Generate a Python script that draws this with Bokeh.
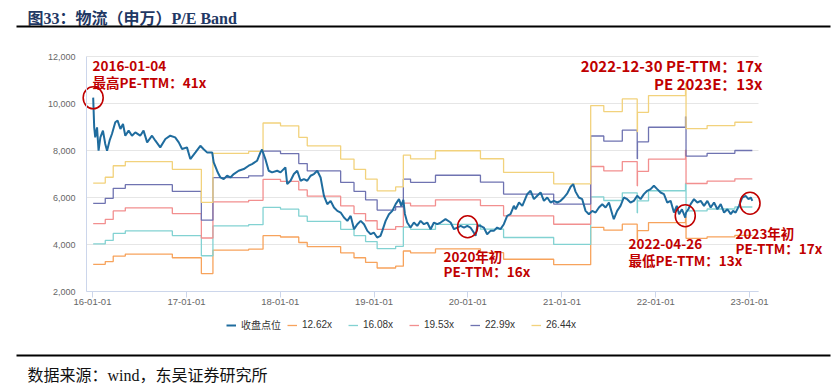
import pandas as pd
from bokeh.plotting import figure
from bokeh.models import (Range1d, FixedTicker, DatetimeTickFormatter, NumeralTickFormatter,
                          Label, Legend, LegendItem, Arrow, PolyAnnotation, ColumnDataSource)
from bokeh.embed import file_html
from bokeh.resources import INLINE

# ---------------- data ----------------
title_text = "图33：物流（申万）P/E Band"
source_text = "数据来源：wind，东吴证券研究所"

close_dates = [
    "2016-01-04", "2016-01-08", "2016-01-12", "2016-01-19", "2016-01-25", "2016-02-01", "2016-02-11",
    "2016-02-20", "2016-02-27", "2016-03-08", "2016-03-17", "2016-03-30", "2016-04-08", "2016-04-19",
    "2016-04-29", "2016-05-08", "2016-05-21", "2016-06-03", "2016-06-16", "2016-07-05", "2016-07-18",
    "2016-08-01", "2016-08-20", "2016-09-02", "2016-09-21", "2016-10-11", "2016-10-30", "2016-11-18",
    "2016-12-02", "2016-12-15", "2017-01-03", "2017-01-16", "2017-02-05", "2017-02-24", "2017-03-08",
    "2017-03-22", "2017-04-11", "2017-04-17", "2017-04-30", "2017-05-06", "2017-05-13", "2017-05-26",
    "2017-06-08", "2017-06-21", "2017-07-04", "2017-07-23", "2017-08-12", "2017-08-31", "2017-09-13",
    "2017-10-03", "2017-10-16", "2017-10-22", "2017-11-04", "2017-11-17", "2017-11-30", "2017-12-20",
    "2018-01-02", "2018-01-21", "2018-01-28", "2018-02-10", "2018-02-23", "2018-03-08", "2018-03-21",
    "2018-04-03", "2018-04-16", "2018-04-29", "2018-05-12", "2018-05-25", "2018-06-07", "2018-06-20",
    "2018-07-03", "2018-07-16", "2018-07-29", "2018-08-11", "2018-08-24", "2018-09-06", "2018-09-19",
    "2018-10-02", "2018-10-15", "2018-10-28", "2018-11-10", "2018-11-23", "2018-12-06", "2018-12-19",
    "2018-12-31", "2019-01-13", "2019-01-26", "2019-02-02", "2019-02-15", "2019-02-28", "2019-03-13",
    "2019-03-26", "2019-04-08", "2019-04-17", "2019-04-25", "2019-05-01", "2019-05-10", "2019-05-23",
    "2019-06-05", "2019-06-18", "2019-07-01", "2019-07-14", "2019-07-27", "2019-08-09", "2019-08-22",
    "2019-09-04", "2019-09-17", "2019-10-06", "2019-10-26", "2019-11-08", "2019-11-21", "2019-12-04",
    "2019-12-17", "2019-12-30", "2020-01-11", "2020-01-24", "2020-01-31", "2020-02-07", "2020-02-19",
    "2020-03-03", "2020-03-16", "2020-03-29", "2020-04-11", "2020-04-24", "2020-05-07", "2020-05-20",
    "2020-06-02", "2020-06-15", "2020-06-28", "2020-07-05", "2020-07-18", "2020-07-31", "2020-08-19",
    "2020-09-01", "2020-09-14", "2020-09-27", "2020-10-10", "2020-10-23", "2020-11-05", "2020-11-18",
    "2020-12-01", "2020-12-14", "2020-12-27", "2021-01-09", "2021-01-22", "2021-02-04", "2021-02-14",
    "2021-02-23", "2021-03-08", "2021-03-21", "2021-04-03", "2021-04-16", "2021-04-29", "2021-05-12",
    "2021-05-25", "2021-06-07", "2021-06-20", "2021-07-03", "2021-07-16", "2021-07-22", "2021-08-04",
    "2021-08-17", "2021-08-30", "2021-09-12", "2021-09-25", "2021-10-08", "2021-10-21", "2021-11-03",
    "2021-11-16", "2021-11-29", "2021-12-12", "2021-12-25", "2022-01-07", "2022-01-20", "2022-02-02",
    "2022-02-15", "2022-02-28", "2022-03-13", "2022-03-24", "2022-04-02", "2022-04-13", "2022-04-26",
    "2022-04-29", "2022-05-08", "2022-05-17", "2022-05-30", "2022-06-12", "2022-06-25", "2022-07-08",
    "2022-07-21", "2022-08-03", "2022-08-16", "2022-08-29", "2022-09-11", "2022-09-24", "2022-10-07",
    "2022-10-20", "2022-10-29", "2022-11-08", "2022-11-21", "2022-12-04", "2022-12-17", "2022-12-28",
    "2023-01-06", "2023-01-12",
]
close_values = [
    10250, 8985, 8558, 8985, 7991, 8560, 8844,
    8277, 7990, 8430, 8703, 9200, 9270, 8916,
    9130, 8630, 8844, 8630, 8773, 8630, 8844,
    8346, 8630, 8417, 8133, 8488, 8630, 8559,
    8346, 8063, 8133, 7637, 7920, 8200, 8063,
    7920, 7920, 7494, 7139, 6997, 6853, 6783,
    6926, 6853, 6997, 7139, 7210, 7352, 7423,
    7565, 7920, 8040, 7637, 7139, 7068, 7139,
    7068, 7280, 6570, 6712, 6997, 7139, 6712,
    6783, 6712, 6926, 6997, 7139, 6853, 6072,
    5716, 5858, 5573, 5431, 5360, 5147, 5006,
    5218, 4652, 4864, 5006, 4864, 4580, 4439,
    4510, 4297, 4370, 4580, 5006, 5289, 5431,
    5716, 5929, 5645, 5900, 5300, 4935, 4722,
    4935, 4793, 5006, 4864, 4935, 4652, 4935,
    4864, 4935, 5077, 4935, 4652, 4722, 4793,
    4722, 4793, 4722, 4510, 4368, 4793, 4793,
    4722, 4439, 4580, 4580, 4722, 4652, 4864,
    5218, 5289, 5645, 5503, 5787, 5645, 6142,
    6284, 5929, 6072, 6213, 5858, 6000, 5787,
    5858, 5787, 5860, 6000, 6180, 6460, 6570,
    6250, 6000, 5929, 5431, 5290, 5431, 5360,
    5573, 5716, 5573, 5787, 5290, 5080, 5431,
    5645, 6000, 5929, 5787, 5858, 6072, 5929,
    6142, 6284, 6355, 6500, 6355, 6213, 6142,
    5787, 5858, 5360, 5645, 5290, 5500, 5147,
    5360, 5500, 5716, 5929, 5787, 5858, 5645,
    5858, 5573, 5787, 5502, 5716, 5360, 5500,
    5290, 5431, 5360, 5645, 6000, 6072, 5929,
    6000, 5858,
]

# index points per 1x PE (TTM earnings), step series
eps_dates = [
    "2016-01-04", "2016-02-20", "2016-03-22", "2016-05-08", "2016-11-07", "2017-02-28", "2017-04-14",
    "2017-08-31", "2017-10-26", "2018-01-02", "2018-03-14", "2018-04-16", "2018-08-24", "2018-10-15",
    "2018-11-29", "2019-01-13", "2019-03-26", "2019-04-25", "2019-05-23", "2019-08-28", "2020-02-19",
    "2020-05-19", "2020-11-30", "2021-04-23", "2021-06-13", "2021-08-24", "2021-10-21", "2021-10-22",
    "2021-12-04", "2022-04-27", "2022-04-29", "2022-07-20", "2022-11-05", "2023-01-12",
]
eps_values = [
    250.2, 259.5, 278.0, 284.8, 272.3, 219.0, 297.9,
    301.1, 346.8, 342.3, 323.7, 310.1, 288.8, 272.3,
    256.6, 237.7, 243.9, 295.0, 289.0, 302.2, 289.3,
    267.3, 248.9, 374.8, 365.2, 385.6, 332.8, 364.0,
    391.0, 410.4, 337.7, 342.7, 348.0, 348.0,
]

band_multiples = [12.62, 16.08, 19.53, 22.99, 26.44]
band_labels = ["12.62x", "16.08x", "19.53x", "22.99x", "26.44x"]
band_colors = ["#F7A35C", "#82D2D2", "#F28F8F", "#6F73B1", "#F2D27C"]
close_label = "收盘点位"
close_color = "#1F6C9E"

y_ticks = [2000, 4000, 6000, 8000, 10000, 12000]
x_tick_dates = ["2016-01-01", "2017-01-01", "2018-01-01", "2019-01-01",
                "2020-01-01", "2021-01-01", "2022-01-01", "2023-01-01"]
x_start, x_end = "2015-12-09", "2023-02-05"   # dates at the left / right edge of the plot area

highlight_dates = ["2016-01-04", "2019-12-31", "2022-04-26", "2023-01-03"]
highlight_values = [10242, 4753, 5221, 5757]

# annotation texts: (text, x_px, y_px, align, size)
ann_red = "#C00000"
annotations = [
    ("2016-01-04", 92, 65, "left", "13.5px"),
    ("最高PE-TTM：41x", 92, 81, "left", "13.5px"),
    ("2022-12-30 PE-TTM：17x", 762, 65, "right", "15px"),
    ("PE 2023E：13x", 762, 83, "right", "15px"),
    ("2020年初", 443, 255, "left", "13.5px"),
    ("PE-TTM：16x", 443, 270, "left", "13.5px"),
    ("2022-04-26", 628, 243, "left", "13.5px"),
    ("最低PE-TTM：13x", 628, 259, "left", "13.5px"),
    ("2023年初", 735, 232, "left", "13.5px"),
    ("PE-TTM：17x", 735, 247, "left", "13.5px"),
]

# ---------------- layout geometry (page pixels) ----------------
W, H = 840, 387
PL, PR, PT, PB = 86, 758, 56, 291          # plot area: left, right, top (12000), bottom (2000)

ms0 = pd.Timestamp(x_start).value / 1e6
ms1 = pd.Timestamp(x_end).value / 1e6
ms_per_px = (ms1 - ms0) / (PR - PL)
v_per_px = (y_ticks[-1] - y_ticks[0]) / (PB - PT)

p = figure(width=W, height=H, x_axis_type="datetime",
           x_range=Range1d(ms0 - PL * ms_per_px, ms1 + (W - PR) * ms_per_px),
           y_range=Range1d(y_ticks[0] - (H - PB) * v_per_px, y_ticks[-1] + PT * v_per_px),
           output_backend="svg", toolbar_location=None,
           min_border=0, min_border_left=0, min_border_right=0, min_border_top=0, min_border_bottom=0)
p.title.visible = False
p.outline_line_color = None
p.background_fill_color = "white"
p.border_fill_color = "white"

# pixel-space ranges (page coordinates) for page decorations
p.extra_x_ranges = {"px": Range1d(0, W)}
p.extra_y_ranges = {"px": Range1d(H, 0)}

# axes, drawn at the plot-area edges
p.xaxis.fixed_location = y_ticks[0]
p.xaxis.bounds = (ms0, ms1)
p.xaxis.ticker = FixedTicker(ticks=[pd.Timestamp(d).value / 1e6 for d in x_tick_dates])
fmt = "%y-%m-%d"
p.xaxis.formatter = DatetimeTickFormatter(years=fmt, months=fmt, days=fmt, hours=fmt,
                                          minutes=fmt, seconds=fmt, milliseconds=fmt, microseconds=fmt)
p.xaxis.axis_line_color = "#ccd6eb"
p.xaxis.major_tick_line_color = "#ccd6eb"
p.xaxis.major_tick_in = 0
p.xaxis.major_tick_out = 6
p.xaxis.minor_tick_line_color = None
p.xaxis.major_label_text_color = "#666666"
p.xaxis.major_label_text_font = "Liberation Sans"
p.xaxis.major_label_text_font_size = "9.5px"
p.xaxis.major_label_standoff = 1

p.yaxis.fixed_location = ms0
p.yaxis.bounds = (y_ticks[0], y_ticks[-1])
p.yaxis.ticker = FixedTicker(ticks=y_ticks)
p.yaxis.formatter = NumeralTickFormatter(format="0,0")
p.yaxis.axis_line_color = "#ccd6eb"
p.yaxis.major_tick_line_color = None
p.yaxis.minor_tick_line_color = None
p.yaxis.major_tick_in = 0
p.yaxis.major_tick_out = 0
p.yaxis.major_label_text_color = "#666666"
p.yaxis.major_label_text_font = "Liberation Sans"
p.yaxis.major_label_text_font_size = "9px"
p.yaxis.major_label_standoff = 11

p.xgrid.grid_line_color = None
try:
    p.ygrid.cross_bounds = (ms0, ms1)
    p.ygrid.grid_line_color = "#e6e6e6"
except Exception:
    p.ygrid.grid_line_color = None
    p.segment(x0=[ms0] * len(y_ticks), x1=[ms1] * len(y_ticks), y0=y_ticks, y1=y_ticks,
              line_color="#e6e6e6", line_width=1)

# data
eps_dt = pd.to_datetime(eps_dates)
band_renderers = []
for m, c in zip(band_multiples, band_colors):
    src = ColumnDataSource(dict(x=eps_dt, y=[m * e for e in eps_values]))
    r = p.step("x", "y", source=src, mode="after", line_color=c, line_width=1.3)
    band_renderers.append(r)

close_src = ColumnDataSource(dict(x=pd.to_datetime(close_dates), y=close_values))
close_r = p.line("x", "y", source=close_src, line_color=close_color, line_width=2)

hl_src = ColumnDataSource(dict(x=pd.to_datetime(highlight_dates), y=highlight_values))
p.ellipse("x", "y", source=hl_src, width=20, height=22, width_units="screen", height_units="screen",
          fill_color=None, line_color=ann_red, line_width=1.6)

# legend (location measured from the frame's bottom-left = page bottom-left)
items = [LegendItem(label=close_label, renderers=[close_r])]
items += [LegendItem(label=l, renderers=[r]) for l, r in zip(band_labels, band_renderers)]
legend = Legend(items=items, orientation="horizontal", location=(226, H - 332),
                glyph_width=10, glyph_height=10, label_standoff=5, label_width=44,
                label_height=10, spacing=2, padding=0, margin=0,
                border_line_color=None, background_fill_alpha=0,
                label_text_font="Liberation Sans, Noto Sans CJK SC",
                label_text_font_size="10px", label_text_color="#333333")
p.add_layout(legend)

# decorations in page-pixel space
cjk_serif = "Liberation Serif, Noto Sans CJK SC"
p.add_layout(Label(x=27, y=18, text=title_text, x_range_name="px", y_range_name="px",
                   text_font=cjk_serif, text_font_size="16px", text_font_style="bold",
                   text_color="#1F3864", text_baseline="alphabetic"))
p.add_layout(Arrow(end=None, x_start=16, y_start=26, x_end=830, y_end=26,
                   line_color="black", line_width=2, x_range_name="px", y_range_name="px"))
p.add_layout(Arrow(end=None, x_start=16, y_start=355, x_end=830, y_end=355,
                   line_color="black", line_width=2, x_range_name="px", y_range_name="px"))
p.add_layout(Label(x=27, y=375, text=source_text, x_range_name="px", y_range_name="px",
                   text_font=cjk_serif, text_font_size="16px",
                   text_color="#111111", text_baseline="alphabetic"))
p.add_layout(PolyAnnotation(xs=[30, 793, 793, 30], ys=[37, 37, 346, 346],
                            x_range_name="px", y_range_name="px",
                            fill_color=None, line_color="#d4d4d4", line_width=1))

for text, x, y, align, size in annotations:
    p.add_layout(Label(x=x, y=y, text=text, x_range_name="px", y_range_name="px",
                       text_font="Noto Sans CJK SC", text_font_size=size, text_font_style="bold",
                       text_color=ann_red, text_align=align, text_baseline="alphabetic"))

open("out.html", "w").write(file_html(p, INLINE))
